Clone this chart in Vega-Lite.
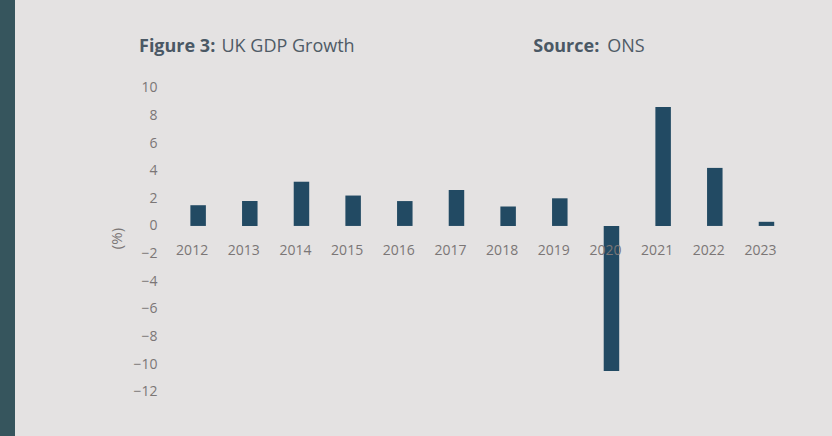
{
  "$schema": "https://vega.github.io/schema/vega-lite/v6.json",
  "width": 832,
  "height": 436,
  "autosize": {"type": "none"},
  "padding": 0,
  "background": "#e4e2e2",
  "view": {
    "stroke": null,
    "fill": {
      "gradient": "linear",
      "x1": 0, "y1": 0, "x2": 1, "y2": 0,
      "stops": [
        {"offset": 0, "color": "#36555d"},
        {"offset": 0.018, "color": "#36555d"},
        {"offset": 0.0181, "color": "#e4e2e2"},
        {"offset": 1, "color": "#e4e2e2"}
      ]
    }
  },
  "title": {
    "text": "Figure 3:\u00a0\u00a0\u00a0\u00a0\u00a0\u00a0\u00a0\u00a0\u00a0\u00a0\u00a0\u00a0\u00a0\u00a0\u00a0\u00a0\u00a0\u00a0\u00a0\u00a0\u00a0\u00a0\u00a0\u00a0\u00a0\u00a0\u00a0\u00a0\u00a0\u00a0\u00a0\u00a0\u00a0\u00a0\u00a0\u00a0\u00a0\u00a0\u00a0\u00a0\u00a0\u00a0\u00a0\u00a0\u00a0\u00a0\u00a0\u00a0\u00a0\u00a0\u00a0\u00a0\u00a0\u00a0\u00a0\u00a0\u00a0\u00a0\u00a0\u00a0\u00a0\u00a0\u00a0\u00a0\u00a0\u00a0\u00a0\u00a0Source:",
    "anchor": "start",
    "frame": "group",
    "orient": "top",
    "dx": 139,
    "offset": -70,
    "baseline": "alphabetic",
    "font": "Open Sans",
    "fontSize": 18,
    "fontWeight": "bold",
    "color": "#4a5865"
  },
  "data": {
    "values": [
      {"year": "2012", "growth": 1.5},
      {"year": "2013", "growth": 1.8},
      {"year": "2014", "growth": 3.2},
      {"year": "2015", "growth": 2.2},
      {"year": "2016", "growth": 1.8},
      {"year": "2017", "growth": 2.6},
      {"year": "2018", "growth": 1.4},
      {"year": "2019", "growth": 2.0},
      {"year": "2020", "growth": -10.5},
      {"year": "2021", "growth": 8.6},
      {"year": "2022", "growth": 4.2},
      {"year": "2023", "growth": 0.3}
    ]
  },
  "mark": {"type": "bar", "color": "#224a63"},
  "encoding": {
    "x": {
      "field": "year",
      "type": "ordinal",
      "scale": {"range": [172.3, 792.3], "paddingInner": 0.7, "paddingOuter": 0.35},
      "axis": {
        "orient": "bottom",
        "offset": -210,
        "domain": false,
        "ticks": false,
        "tickSize": 0,
        "labelAngle": 0,
        "labelPadding": 24,
        "labelBaseline": "middle",
        "labelOffset": -6,
        "labelFont": "Open Sans",
        "labelFontSize": 14,
        "labelColor": "#7b7676",
        "zindex": 1,
        "title": "UK GDP Growth\u00a0\u00a0\u00a0\u00a0\u00a0\u00a0\u00a0\u00a0\u00a0\u00a0\u00a0\u00a0\u00a0\u00a0\u00a0\u00a0\u00a0\u00a0\u00a0\u00a0\u00a0\u00a0\u00a0\u00a0\u00a0\u00a0\u00a0\u00a0\u00a0\u00a0\u00a0\u00a0\u00a0\u00a0\u00a0\u00a0\u00a0\u00a0\u00a0\u00a0\u00a0\u00a0\u00a0\u00a0\u00a0\u00a0\u00a0\u00a0\u00a0\u00a0\u00a0\u00a0\u00a0\u00a0ONS",
        "titleX": 221,
        "titleY": -175,
        "titleAlign": "left",
        "titleAnchor": "start",
        "titleBaseline": "alphabetic",
        "titleFont": "Open Sans",
        "titleFontSize": 18,
        "titleFontWeight": "normal",
        "titleColor": "#4f5b66"
      }
    },
    "y": {
      "field": "growth",
      "type": "quantitative",
      "scale": {"domain": [-15.2, 16.35], "nice": false, "zero": false},
      "axis": {
        "orient": "left",
        "offset": -165,
        "values": [-12, -10, -8, -6, -4, -2, 0, 2, 4, 6, 8, 10],
        "domain": false,
        "ticks": false,
        "tickSize": 0,
        "grid": false,
        "labelPadding": 8,
        "labelFont": "Open Sans",
        "labelFontSize": 14,
        "labelColor": "#7b7676",
        "title": "(%)",
        "titleX": -49,
        "titleY": 238,
        "titleAngle": -90,
        "titleAlign": "center",
        "titleBaseline": "middle",
        "titleFont": "Open Sans",
        "titleFontSize": 15,
        "titleFontWeight": "normal",
        "titleColor": "#7b7676"
      }
    },
    "y2": {"datum": 0}
  }
}
